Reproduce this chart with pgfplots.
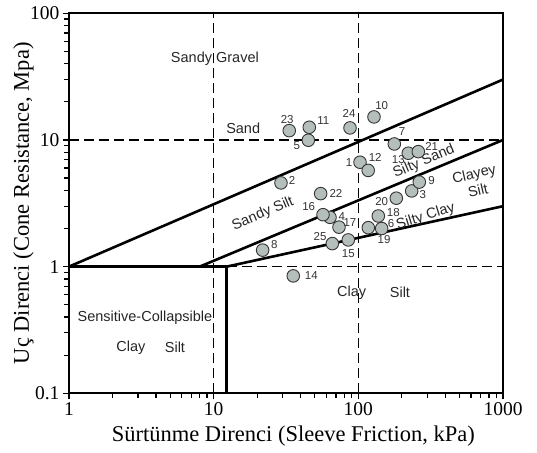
\documentclass[border=0pt]{standalone}
\usepackage{pgfplots}
\pgfplotsset{compat=1.18}
\usepackage{pgfplotstable}
\usepackage{fontspec}
\setmainfont{Liberation Serif}
\newfontfamily\arial{Liberation Sans}
\definecolor{ptfill}{RGB}{180,191,187}

\pgfplotstableread{
x y lab dx dy
102.7 6.67 1 -11 0
29.2 4.58 2 11 2
233.8 3.96 3 11 -4
63.7 2.45 4 11.7 0.6
45.1 9.95 5 -11.6 -5.7
145 2.0 6 9.3 4.7
177.3 9.30 7 7.7 12
21.8 1.35 8 11.6 5.3
263.8 4.65 9 12.4 2
128.3 15.2 10 7.7 11.3
45.8 12.6 11 14 6.3
117 5.75 12 7 12.5
221.4 7.86 13 -10 -6.7
35.5 0.845 14 18 0
85.2 1.625 15 0 -14
57.0 2.57 16 -14.3 7.7
73.5 2.05 17 11 4.6
137.4 2.51 18 15 3.7
117.2 2.03 19 15.7 -12.3
183 3.47 20 -14.6 -3.5
259.7 8.09 21 13.4 5
54.9 3.77 22 15.3 0
33.3 11.85 23 -2 11.4
87.6 12.45 24 -1 14.7
66.1 1.52 25 -12.3 7
}\pts

\begin{document}
\begin{tikzpicture}
\useasboundingbox (-69pt,-58.7pt) rectangle (468pt,393.3pt);
\begin{axis}[
  at={(0,0)}, anchor=south west,
  scale only axis, width=434pt, height=380pt,
  xmode=log, ymode=log, xmin=1, xmax=1000, ymin=0.1, ymax=100,
  xtick={1,10,100,1000}, xticklabels={1,10,100,1000},
  ytick={0.1,1,10,100}, yticklabels={0.1,1,10,100},
  minor xtick={2,3,4,5,6,7,8,9,20,30,40,50,60,70,80,90,200,300,400,500,600,700,800,900},
  minor ytick={0.2,0.3,0.4,0.5,0.6,0.7,0.8,0.9,2,3,4,5,6,7,8,9,20,30,40,50,60,70,80,90},
  tick align=outside, xtick pos=left, ytick pos=left,
  major tick length=6pt, minor tick length=5pt,
  tick style={black, line width=1.2pt},
  axis line style={line width=2.2pt},
  ticklabel style={font=\fontsize{19.5}{20}\selectfont},
  xlabel={Sürtünme Direnci (Sleeve Friction, kPa)},
  ylabel={Uç Direnci (Cone Resistance, Mpa)},
  label style={font=\fontsize{22.5}{24}\selectfont},
  xlabel style={at={(axis description cs:0.517,-0.1263)}, anchor=base},
  ylabel style={at={(axis description cs:-0.0922,0.5)}, anchor=base},
  clip=false,
]
% dashed reference lines
\addplot[black, line width=1.2pt, dash pattern=on 10pt off 5pt] coordinates {(10,0.1) (10,100)};
\addplot[black, line width=1.2pt, dash pattern=on 10pt off 5pt] coordinates {(100,0.1) (100,100)};
\addplot[black, line width=1.2pt, dash pattern=on 10pt off 5pt] coordinates {(1,10) (1000,10)};
\addplot[black, line width=1.2pt, dash pattern=on 10pt off 5pt] coordinates {(12.3,1) (1000,1)};
% solid zone boundaries
\addplot[black, line width=2.6pt] coordinates {(1,1) (12.3,1)};
\addplot[black, line width=2.6pt] coordinates {(12.3,0.1) (12.3,1)};
\addplot[black, line width=2.6pt] coordinates {(1,1) (1000,30)};
\addplot[black, line width=2.6pt] coordinates {(8,1) (1000,10)};
\addplot[black, line width=2.6pt] coordinates {(12.3,1) (1000,3)};
% data points
\addplot[only marks, mark=*, mark size=6.3pt,
  mark options={fill=ptfill, draw=black!80, line width=0.9pt},
  point meta=explicit symbolic,
  visualization depends on={\thisrow{dx}\as\labdx},
  visualization depends on={\thisrow{dy}\as\labdy},
  nodes near coords,
  nodes near coords align={anchor=center},
  nodes near coords style={anchor=center, xshift=\labdx pt, yshift=\labdy pt,
    font=\arial\fontsize{11.5}{12}\selectfont, text=black!80, inner sep=0pt},
] table[x=x, y=y, meta=lab] {\pts};
% zone names
\begin{scope}[every node/.style={font=\arial\fontsize{14.5}{17.5}\selectfont, text=black!85}]
\node at (axis cs:10.2,43.6) {Sandy Gravel};
\node at (axis cs:16,12.4) {Sand};
\node[rotate=23] at (axis cs:284,6.74) {Silty Sand};
\node[rotate=23] at (axis cs:21.9,2.61) {Sandy Silt};
\node[rotate=17] at (axis cs:292,2.48) {Silty Clay};
\node[rotate=13, align=center] at (axis cs:650,4.66) {Clayey\\Silt};
\node at (axis cs:90,0.623) {Clay};
\node at (axis cs:194,0.623) {Silt};
\node at (axis cs:3.35,0.3985) {Sensitive-Collapsible};
\node at (axis cs:2.68,0.229) {Clay};
\node at (axis cs:5.40,0.229) {Silt};
\end{scope}
\end{axis}
\end{tikzpicture}
\end{document}
